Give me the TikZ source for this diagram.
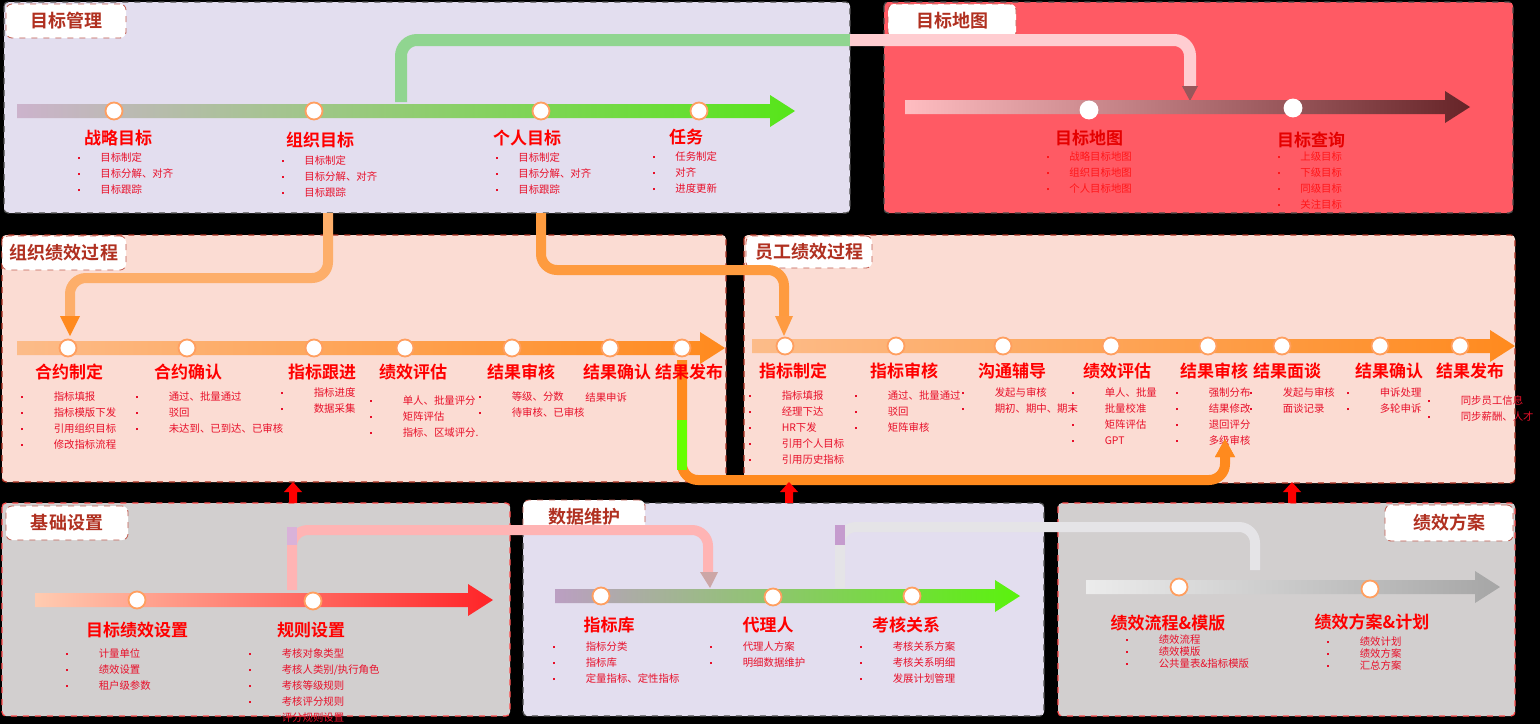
\documentclass[tikz,border=0pt]{standalone}
\usepackage{fontspec}
\setmainfont{Noto Sans CJK SC}[BoldFont={Noto Sans CJK SC Bold}]
\usetikzlibrary{arrows.meta}
\definecolor{lav}{HTML}{E3DEEF}
\definecolor{gry}{HTML}{D2CFCF}
\definecolor{pch}{HTML}{FBDCD3}
\definecolor{rd}{HTML}{FF5A64}
\definecolor{dred}{HTML}{B03020}
\definecolor{tred}{HTML}{E8102A}
\definecolor{org}{HTML}{FF8A1E}
\tikzset{
 panel/.style={draw=#1,dashed,line width=0.6pt,rounded corners=2pt},
 lab/.style={draw=dred!80,dashed,fill=white,rounded corners=3pt,text=dred,font=\bfseries\fontsize{9}{10}\selectfont,inner sep=0pt},
 ttl/.style={text=red,font=\bfseries\fontsize{8.5}{9}\selectfont},
 dot/.style={circle,fill=white,draw=#1,line width=0.9pt,minimum size=8.5pt,inner sep=0pt},
 dot/.default={orange!50!pink},
 lst/.style={anchor=north west,align=left,text=tred,font=\fontsize{5.2}{8}\selectfont,inner sep=0pt},
 conn/.style={line width=#1,rounded corners=8pt},
}
\newcommand\bp{\makebox[11pt][l]{\rule[1pt]{1pt}{1pt}}}
\newcommand\tline[5]{\shade[left color=#4,right color=#5] (#1,#3-7)--(#2-25,#3-7)--(#2-25,#3-16)--(#2,#3)--(#2-25,#3+16)--(#2-25,#3+7)--(#1,#3+7)--cycle;}
\begin{document}
\begin{tikzpicture}[x=0.5pt,y=-0.5pt]
\fill[black] (0,0) rectangle (1540,724);
\useasboundingbox (0,0) rectangle (1540,724);
% panels
\filldraw[panel=black!70,fill=lav] (4,2) rectangle (850,213);
\filldraw[panel=black!70,fill=rd] (884,2) rectangle (1513,213);
\filldraw[panel=dred,fill=pch] (2,235) rectangle (726,482);
\filldraw[panel=dred,fill=pch] (744,235) rectangle (1515,483);
\filldraw[panel=red!70,fill=gry] (2,503) rectangle (510,716);
\filldraw[panel=black!70,fill=lav] (523,503) rectangle (1044,716);
\filldraw[panel=red!70,fill=gry] (1058,503) rectangle (1515,716);
% labels
\node[lab,minimum width=60pt,minimum height=17pt] (l1) at (66,21) {目标管理};
\node[lab,minimum width=64pt,minimum height=17pt] (l2) at (952,21) {目标地图};
\node[lab,minimum width=62pt,minimum height=17pt] (l3) at (64,253) {组织绩效过程};
\node[lab,minimum width=63pt,minimum height=16pt] (l4) at (809,252) {员工绩效过程};
\node[lab,minimum width=61pt,minimum height=17pt] (l5) at (67,523) {基础设置};
\node[lab,minimum width=61pt,minimum height=17pt] (l6) at (584,517) {数据维护};
\node[lab,minimum width=64pt,minimum height=18pt] (l7) at (1449,523) {绩效方案};

% ===== 目标管理
\draw[conn=6pt,color=green!45!gray!60] (401,102)--(401,40)--(850,40);
\draw[conn=6pt,color=white!70!rd] (850,40)--(1190,40)--(1190,88);
\fill[rd!50!black!80] (1182,86)--(1198,86)--(1190,101)--cycle;
\tline{17}{795}{111}{violet!25!white!80!gray}{green!60!lime!80!gray}
\foreach \n/\x in {a1/114,a2/314,a3/541,a4/699} \node[dot] (\n) at (\x,111) {};
\node[ttl] (t1) at (118,138) {战略目标};
\node[ttl] (t2) at (320,140) {组织目标};
\node[ttl] (t3) at (527,138) {个人目标};
\node[ttl] (t4) at (686,137) {任务};
\node[lst] (b1) at (78,152) {\bp 目标制定\\\bp 目标分解、对齐\\\bp 目标跟踪};
\node[lst] (b2) at (282,155) {\bp 目标制定\\\bp 目标分解、对齐\\\bp 目标跟踪};
\node[lst] (b3) at (496,152) {\bp 目标制定\\\bp 目标分解、对齐\\\bp 目标跟踪};
\node[lst] (b4) at (653,151) {\bp 任务制定\\\bp 对齐\\\bp 进度更新};

% ===== 目标地图
\tline{905}{1470}{107}{white!60!rd}{rd!40!black}
\node[dot=white] (m1) at (1089,110) {};
\node[dot=white] (m2) at (1293,108) {};
\node[ttl,text=red!90!black] (mt1) at (1089,138) {目标地图};
\node[ttl,text=red!90!black] (mt2) at (1311,140) {目标查询};
\node[lst,text=red!75!rd] (mb1) at (1047,151) {\bp 战略目标地图\\\bp 组织目标地图\\\bp 个人目标地图};
\node[lst,text=red!75!rd] (mb2) at (1278,151) {\bp 上级目标\\\bp 下级目标\\\bp 同级目标\\\bp 关注目标};

% ===== connectors into processes
\draw[conn=5pt,color=orange!50!pch] (328,213)--(328,278)--(70,278)--(70,318);
\fill[org] (60,316)--(80,316)--(70,336)--cycle;
\draw[conn=5pt,color=orange!70!pch] (541,213)--(541,270)--(784,270)--(784,318);
\fill[org!80!pch] (775,316)--(793,316)--(784,336)--cycle;
\draw[conn=5pt,color=org] (682,360)--(682,480)--(1225,480)--(1225,455);
\draw[line width=5pt,color=green!60!yellow] (682,420)--(682,470);
\fill[org] (1215,457)--(1235,457)--(1225,439)--cycle;

% ===== 组织绩效过程
\tline{17}{725}{348}{orange!35!pch}{org}
\foreach \n/\x in {c1/68,c2/187,c3/314,c4/405,c5/512,c6/610,c7/682} \node[dot] (\n) at (\x,348) {};
\foreach \n/\x/\t in {ct1/69/合约制定,ct2/188/合约确认,ct3/322/指标跟进,ct4/413/绩效评估,ct5/521/结果审核,ct6/617/结果确认,ct7/689/结果发布}
  \node[ttl] (\n) at (\x,372) {\t};
\node[lst] (cb1) at (21,391) {\bp\quad 指标填报\\\bp\quad 指标模版下发\\\bp\quad 引用组织目标\\\bp\quad 修改指标流程};
\node[lst] (cb2) at (136,391) {\bp\quad 通过、批量通过\\\bp\quad 驳回\\\bp\quad 未达到、已到达、已审核};
\node[lst] (cb3) at (281,387) {\bp\quad 指标进度\\\bp\quad 数据采集};
\node[lst] (cb4) at (370,395) {\bp\quad 单人、批量评分\\\bp\quad 矩阵评估\\\bp\quad 指标、区域评分.};
\node[lst] (cb5) at (479,391) {\bp\quad 等级、分数\\\bp\quad 待审核、已审核};
\node[lst] (cb6) at (585,392) {结果申诉};

% ===== 员工绩效过程
\tline{752}{1515}{346}{orange!35!pch}{org}
\foreach \n/\x in {e1/785,e2/896,e3/1003,e4/1111,e5/1208,e6/1282,e7/1380,e8/1460} \node[dot] (\n) at (\x,346) {};
\foreach \n/\x/\t in {et1/793/指标制定,et2/904/指标审核,et3/1012/沟通辅导,et4/1117/绩效评估,et5/1214/结果审核,et6/1287/结果面谈,et7/1389/结果确认,et8/1470/结果发布}
  \node[ttl] (\n) at (\x,371) {\t};
\node[lst] (eb1) at (749,390) {\bp\quad 指标填报\\\bp\quad 经理下达\\\bp\quad HR下发\\\bp\quad 引用个人目标\\\bp\quad 引用历史指标};
\node[lst] (eb2) at (855,390) {\bp\quad 通过、批量通过\\\bp\quad 驳回\\\bp\quad 矩阵审核};
\node[lst] (eb3) at (962,387) {\bp\quad 发起与审核\\\bp\quad 期初、期中、期末};
\node[lst] (eb4) at (1072,387) {\bp\quad 单人、批量\\\bp\quad 批量校准\\\bp\quad 矩阵评估\\\bp\quad GPT};
\node[lst] (eb5) at (1176,387) {\bp\quad 强制分布\\\bp\quad 结果修改\\\bp\quad 退回评分\\\bp\quad 多级审核};
\node[lst] (eb6) at (1250,387) {\bp\quad 发起与审核\\\bp\quad 面谈记录};
\node[lst] (eb7) at (1347,387) {\bp\quad 申诉处理\\\bp\quad 多轮申诉};
\node[lst] (eb8) at (1428,395) {\bp\quad 同步员工信息\\\bp\quad 同步薪酬、人才};
\fill[org] (1215,457)--(1235,457)--(1225,439)--cycle;

% red up arrows
\foreach \x in {293,789,1292}{\fill[red] (\x-4,503)--(\x-4,492)--(\x-9,492)--(\x,482)--(\x+9,492)--(\x+4,492)--(\x+4,503)--cycle;}

% ===== 基础设置 / 数据维护 connector
\draw[conn=5pt,color=red!30!white!90!pink] (292,590)--(292,530)--(708,530)--(708,575);
\draw[line width=5pt,color=violet!30!white] (292,527)--(292,545);
\fill[gray!40!pink] (700,572)--(718,572)--(710,588)--cycle;
\tline{35}{493}{600}{orange!35!pink!60}{red!60!rd}
\node[dot] (f1) at (137,600) {};
\node[dot] (f2) at (313,601) {};
\node[ttl] (ft1) at (137,630) {目标绩效设置};
\node[ttl] (ft2) at (311,630) {规则设置};
\node[lst] (fb1) at (66,648) {\bp\quad 计量单位\\\bp\quad 绩效设置\\\bp\quad 租户级参数};
\node[lst] (fb2) at (249,648) {\bp\quad 考核对象类型\\\bp\quad 考核人类别/执行角色\\\bp\quad 考核等级规则\\\bp\quad 考核评分规则\\\phantom{\bp}\quad 评分规则设置};

% ===== 数据维护 / 绩效方案 connector
\draw[conn=5pt,color=gray!20!white!85!lav] (840,588)--(840,527)--(1255,527)--(1255,570);
\draw[line width=5pt,color=violet!30!lav] (840,525)--(840,545);
\tline{555}{1020}{596}{violet!25!lav!80!gray}{green!55!lime!90!gray}
\node[dot] (d1) at (601,596) {};
\node[dot] (d2) at (773,597) {};
\node[dot] (d3) at (912,596) {};
\node[ttl] (dt1) at (609,625) {指标库};
\node[ttl] (dt2) at (768,625) {代理人};
\node[ttl] (dt3) at (906,625) {考核关系};
\node[lst] (db1) at (553,641) {\bp\quad 指标分类\\\bp\quad 指标库\\\bp\quad 定量指标、定性指标};
\node[lst] (db2) at (710,641) {\bp\quad 代理人方案\\\bp\quad 明细数据维护};
\node[lst] (db3) at (860,641) {\bp\quad 考核关系方案\\\bp\quad 考核关系明细\\\bp\quad 发展计划管理};

\tline{1086}{1500}{587}{gray!15!white}{gray!70}
\node[dot] (g1) at (1179,587) {};
\node[dot] (g2) at (1370,589) {};
\node[ttl] (gt1) at (1168,623) {绩效流程\&模版};
\node[ttl] (gt2) at (1372,622) {绩效方案\&计划};
\node[lst] (gb1) at (1126,634) {\bp\quad 绩效流程\\[-2pt]\bp\quad 绩效模版\\[-2pt]\bp\quad 公共量表\&指标模版};
\node[lst] (gb2) at (1327,636) {\bp\quad 绩效计划\\[-2pt]\bp\quad 绩效方案\\[-2pt]\bp\quad 汇总方案};
\end{tikzpicture}
\end{document}
